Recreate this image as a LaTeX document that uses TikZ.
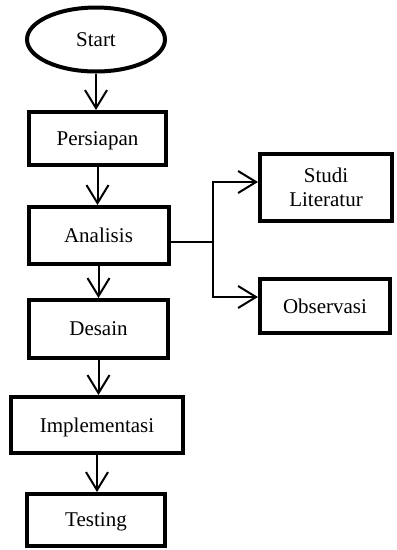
\documentclass[tikz,border=0pt]{standalone}
\usepackage{fontspec}
\setmainfont{Liberation Serif}
\usetikzlibrary{shapes.geometric,arrows.meta}
\begin{document}
\begin{tikzpicture}[x=1pt,y=-1pt,
  font=\fontsize{21}{24}\selectfont,
  box/.style={draw,line width=4pt,rectangle,inner sep=0pt,align=center,text depth=0pt},
  arr/.style={line width=2pt,-{Straight Barb[length=18pt,width=22pt,line width=2pt]}}]
\useasboundingbox (0,0) rectangle (397,550);
\node[draw,line width=4pt,ellipse,inner sep=0pt,text depth=0pt,minimum width=138pt,minimum height=64pt] (start) at (96,39.5) {Start};
\node[box,minimum width=137pt,minimum height=53pt] (pers) at (97.5,138.5) {Persiapan};
\node[box,minimum width=140pt,minimum height=57pt] (anal) at (98.5,235.5) {Analisis};
\node[box,minimum width=139pt,minimum height=58pt] (des) at (98.5,329) {Desain};
\node[box,minimum width=172pt,minimum height=56pt] (impl) at (97,425) {Implementasi};
\node[box,minimum width=138pt,minimum height=52pt] (test) at (96,520) {Testing};
\node[box,minimum width=132pt,minimum height=67pt] (studi) at (326,187.5) {Studi\\Literatur};
\node[box,minimum width=130pt,minimum height=54pt] (obs) at (325,306) {Observasi};
\coordinate (br) at (213,241.5);
\draw[arr] (start.south) -- (start.south |- pers.north);
\draw[arr] (pers.south) -- (pers.south |- anal.north);
\draw[arr] (anal.south) -- (anal.south |- des.north);
\draw[arr] (des.south) -- (des.south |- impl.north);
\draw[arr] (impl.south) -- (impl.south |- test.north);
\draw[line width=2pt] (anal.east |- br) -- (br);
\draw[arr] (br) |- ([yshift=5.5pt]studi.west);
\draw[arr] (br) |- ([yshift=9pt]obs.west);
\end{tikzpicture}
\end{document}
